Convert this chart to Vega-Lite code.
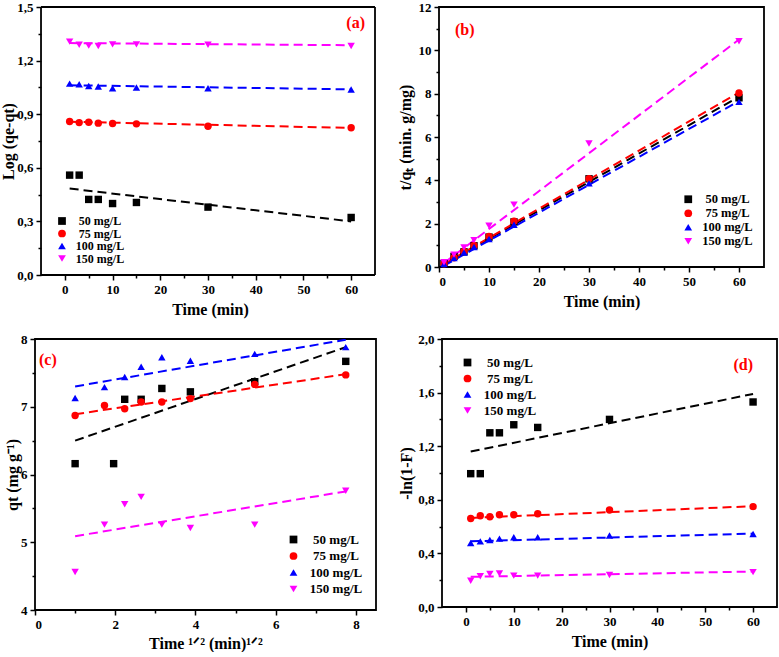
{
  "$schema": "https://vega.github.io/schema/vega-lite/v6.json",
  "padding": {"left": 0, "top": 0, "right": 0, "bottom": 0},
  "background": "#ffffff",
  "spacing": 15,
  "resolve": {"scale": {"color": "independent", "shape": "independent", "stroke": "independent"}, "legend": {"color": "independent", "shape": "independent", "stroke": "independent"}},
  "datasets": {
    "pts": [
      {"panel": "a", "series": "50 mg/L", "x": 1, "y": 0.559},
      {"panel": "a", "series": "50 mg/L", "x": 3, "y": 0.559},
      {"panel": "a", "series": "50 mg/L", "x": 5, "y": 0.423},
      {"panel": "a", "series": "50 mg/L", "x": 7, "y": 0.423},
      {"panel": "a", "series": "50 mg/L", "x": 10, "y": 0.4},
      {"panel": "a", "series": "50 mg/L", "x": 15, "y": 0.406},
      {"panel": "a", "series": "50 mg/L", "x": 30, "y": 0.38},
      {"panel": "a", "series": "50 mg/L", "x": 60, "y": 0.322},
      {"panel": "a", "series": "75 mg/L", "x": 1, "y": 0.859},
      {"panel": "a", "series": "75 mg/L", "x": 3, "y": 0.853},
      {"panel": "a", "series": "75 mg/L", "x": 5, "y": 0.855},
      {"panel": "a", "series": "75 mg/L", "x": 7, "y": 0.85},
      {"panel": "a", "series": "75 mg/L", "x": 10, "y": 0.848},
      {"panel": "a", "series": "75 mg/L", "x": 15, "y": 0.846},
      {"panel": "a", "series": "75 mg/L", "x": 30, "y": 0.833},
      {"panel": "a", "series": "75 mg/L", "x": 60, "y": 0.824},
      {"panel": "a", "series": "100 mg/L", "x": 1, "y": 1.071},
      {"panel": "a", "series": "100 mg/L", "x": 3, "y": 1.068},
      {"panel": "a", "series": "100 mg/L", "x": 5, "y": 1.058},
      {"panel": "a", "series": "100 mg/L", "x": 7, "y": 1.055},
      {"panel": "a", "series": "100 mg/L", "x": 10, "y": 1.045},
      {"panel": "a", "series": "100 mg/L", "x": 15, "y": 1.049},
      {"panel": "a", "series": "100 mg/L", "x": 30, "y": 1.045},
      {"panel": "a", "series": "100 mg/L", "x": 60, "y": 1.038},
      {"panel": "a", "series": "150 mg/L", "x": 1, "y": 1.306},
      {"panel": "a", "series": "150 mg/L", "x": 3, "y": 1.289},
      {"panel": "a", "series": "150 mg/L", "x": 5, "y": 1.284},
      {"panel": "a", "series": "150 mg/L", "x": 7, "y": 1.282},
      {"panel": "a", "series": "150 mg/L", "x": 10, "y": 1.291},
      {"panel": "a", "series": "150 mg/L", "x": 15, "y": 1.291},
      {"panel": "a", "series": "150 mg/L", "x": 30, "y": 1.289},
      {"panel": "a", "series": "150 mg/L", "x": 60, "y": 1.282},

      {"panel": "b", "series": "50 mg/L", "x": 1, "y": 0.16},
      {"panel": "b", "series": "50 mg/L", "x": 3, "y": 0.49},
      {"panel": "b", "series": "50 mg/L", "x": 5, "y": 0.7},
      {"panel": "b", "series": "50 mg/L", "x": 7, "y": 0.98},
      {"panel": "b", "series": "50 mg/L", "x": 10, "y": 1.38},
      {"panel": "b", "series": "50 mg/L", "x": 15, "y": 2.08},
      {"panel": "b", "series": "50 mg/L", "x": 30, "y": 4.07},
      {"panel": "b", "series": "50 mg/L", "x": 60, "y": 7.81},
      {"panel": "b", "series": "75 mg/L", "x": 1, "y": 0.15},
      {"panel": "b", "series": "75 mg/L", "x": 3, "y": 0.43},
      {"panel": "b", "series": "75 mg/L", "x": 5, "y": 0.72},
      {"panel": "b", "series": "75 mg/L", "x": 7, "y": 0.99},
      {"panel": "b", "series": "75 mg/L", "x": 10, "y": 1.41},
      {"panel": "b", "series": "75 mg/L", "x": 15, "y": 2.11},
      {"panel": "b", "series": "75 mg/L", "x": 30, "y": 4.08},
      {"panel": "b", "series": "75 mg/L", "x": 60, "y": 8.03},
      {"panel": "b", "series": "100 mg/L", "x": 1, "y": 0.14},
      {"panel": "b", "series": "100 mg/L", "x": 3, "y": 0.41},
      {"panel": "b", "series": "100 mg/L", "x": 5, "y": 0.67},
      {"panel": "b", "series": "100 mg/L", "x": 7, "y": 0.92},
      {"panel": "b", "series": "100 mg/L", "x": 10, "y": 1.29},
      {"panel": "b", "series": "100 mg/L", "x": 15, "y": 1.95},
      {"panel": "b", "series": "100 mg/L", "x": 30, "y": 3.86},
      {"panel": "b", "series": "100 mg/L", "x": 60, "y": 7.62},
      {"panel": "b", "series": "150 mg/L", "x": 1, "y": 0.22},
      {"panel": "b", "series": "150 mg/L", "x": 3, "y": 0.57},
      {"panel": "b", "series": "150 mg/L", "x": 5, "y": 0.9},
      {"panel": "b", "series": "150 mg/L", "x": 7, "y": 1.24},
      {"panel": "b", "series": "150 mg/L", "x": 10, "y": 1.9},
      {"panel": "b", "series": "150 mg/L", "x": 15, "y": 2.88},
      {"panel": "b", "series": "150 mg/L", "x": 30, "y": 5.7},
      {"panel": "b", "series": "150 mg/L", "x": 60, "y": 10.42},

      {"panel": "c", "series": "50 mg/L", "x": 1, "y": 6.16},
      {"panel": "c", "series": "50 mg/L", "x": 1.96, "y": 6.16},
      {"panel": "c", "series": "50 mg/L", "x": 2.236, "y": 7.11},
      {"panel": "c", "series": "50 mg/L", "x": 2.646, "y": 7.11},
      {"panel": "c", "series": "50 mg/L", "x": 3.162, "y": 7.27},
      {"panel": "c", "series": "50 mg/L", "x": 3.873, "y": 7.22},
      {"panel": "c", "series": "50 mg/L", "x": 5.477, "y": 7.37},
      {"panel": "c", "series": "50 mg/L", "x": 7.746, "y": 7.67},
      {"panel": "c", "series": "75 mg/L", "x": 1, "y": 6.87},
      {"panel": "c", "series": "75 mg/L", "x": 1.732, "y": 7.02},
      {"panel": "c", "series": "75 mg/L", "x": 2.236, "y": 6.97},
      {"panel": "c", "series": "75 mg/L", "x": 2.646, "y": 7.07},
      {"panel": "c", "series": "75 mg/L", "x": 3.162, "y": 7.07},
      {"panel": "c", "series": "75 mg/L", "x": 3.873, "y": 7.12},
      {"panel": "c", "series": "75 mg/L", "x": 5.477, "y": 7.33},
      {"panel": "c", "series": "75 mg/L", "x": 7.746, "y": 7.47},
      {"panel": "c", "series": "100 mg/L", "x": 1, "y": 7.13},
      {"panel": "c", "series": "100 mg/L", "x": 1.732, "y": 7.29},
      {"panel": "c", "series": "100 mg/L", "x": 2.236, "y": 7.44},
      {"panel": "c", "series": "100 mg/L", "x": 2.646, "y": 7.59},
      {"panel": "c", "series": "100 mg/L", "x": 3.162, "y": 7.73},
      {"panel": "c", "series": "100 mg/L", "x": 3.873, "y": 7.68},
      {"panel": "c", "series": "100 mg/L", "x": 5.477, "y": 7.78},
      {"panel": "c", "series": "100 mg/L", "x": 7.746, "y": 7.88},
      {"panel": "c", "series": "150 mg/L", "x": 1, "y": 4.56},
      {"panel": "c", "series": "150 mg/L", "x": 1.732, "y": 5.26},
      {"panel": "c", "series": "150 mg/L", "x": 2.236, "y": 5.56},
      {"panel": "c", "series": "150 mg/L", "x": 2.646, "y": 5.67},
      {"panel": "c", "series": "150 mg/L", "x": 3.162, "y": 5.26},
      {"panel": "c", "series": "150 mg/L", "x": 3.873, "y": 5.21},
      {"panel": "c", "series": "150 mg/L", "x": 5.477, "y": 5.26},
      {"panel": "c", "series": "150 mg/L", "x": 7.746, "y": 5.76},

      {"panel": "d", "series": "50 mg/L", "x": 1, "y": 0.995},
      {"panel": "d", "series": "50 mg/L", "x": 3, "y": 0.995},
      {"panel": "d", "series": "50 mg/L", "x": 5, "y": 1.3},
      {"panel": "d", "series": "50 mg/L", "x": 7, "y": 1.3},
      {"panel": "d", "series": "50 mg/L", "x": 10, "y": 1.36},
      {"panel": "d", "series": "50 mg/L", "x": 15, "y": 1.34},
      {"panel": "d", "series": "50 mg/L", "x": 30, "y": 1.4},
      {"panel": "d", "series": "50 mg/L", "x": 60, "y": 1.53},
      {"panel": "d", "series": "75 mg/L", "x": 1, "y": 0.661},
      {"panel": "d", "series": "75 mg/L", "x": 3, "y": 0.681},
      {"panel": "d", "series": "75 mg/L", "x": 5, "y": 0.673},
      {"panel": "d", "series": "75 mg/L", "x": 7, "y": 0.688},
      {"panel": "d", "series": "75 mg/L", "x": 10, "y": 0.688},
      {"panel": "d", "series": "75 mg/L", "x": 15, "y": 0.696},
      {"panel": "d", "series": "75 mg/L", "x": 30, "y": 0.724},
      {"panel": "d", "series": "75 mg/L", "x": 60, "y": 0.749},
      {"panel": "d", "series": "100 mg/L", "x": 1, "y": 0.477},
      {"panel": "d", "series": "100 mg/L", "x": 3, "y": 0.49},
      {"panel": "d", "series": "100 mg/L", "x": 5, "y": 0.5},
      {"panel": "d", "series": "100 mg/L", "x": 7, "y": 0.51},
      {"panel": "d", "series": "100 mg/L", "x": 10, "y": 0.52},
      {"panel": "d", "series": "100 mg/L", "x": 15, "y": 0.52},
      {"panel": "d", "series": "100 mg/L", "x": 30, "y": 0.533},
      {"panel": "d", "series": "100 mg/L", "x": 60, "y": 0.545},
      {"panel": "d", "series": "150 mg/L", "x": 1, "y": 0.196},
      {"panel": "d", "series": "150 mg/L", "x": 3, "y": 0.23},
      {"panel": "d", "series": "150 mg/L", "x": 5, "y": 0.246},
      {"panel": "d", "series": "150 mg/L", "x": 7, "y": 0.25},
      {"panel": "d", "series": "150 mg/L", "x": 10, "y": 0.234},
      {"panel": "d", "series": "150 mg/L", "x": 15, "y": 0.234},
      {"panel": "d", "series": "150 mg/L", "x": 30, "y": 0.239},
      {"panel": "d", "series": "150 mg/L", "x": 60, "y": 0.26}
    ],
    "fit": [
      {"panel": "a", "series": "50 mg/L", "x": 1, "y": 0.484},
      {"panel": "a", "series": "50 mg/L", "x": 60, "y": 0.3},
      {"panel": "a", "series": "75 mg/L", "x": 1, "y": 0.858},
      {"panel": "a", "series": "75 mg/L", "x": 60, "y": 0.823},
      {"panel": "a", "series": "100 mg/L", "x": 1, "y": 1.062},
      {"panel": "a", "series": "100 mg/L", "x": 60, "y": 1.039},
      {"panel": "a", "series": "150 mg/L", "x": 1, "y": 1.298},
      {"panel": "a", "series": "150 mg/L", "x": 60, "y": 1.286},
      {"panel": "b", "series": "50 mg/L", "x": 1, "y": 0.12},
      {"panel": "b", "series": "50 mg/L", "x": 60, "y": 7.86},
      {"panel": "b", "series": "75 mg/L", "x": 1, "y": 0.14},
      {"panel": "b", "series": "75 mg/L", "x": 60, "y": 8.06},
      {"panel": "b", "series": "100 mg/L", "x": 1, "y": 0.06},
      {"panel": "b", "series": "100 mg/L", "x": 60, "y": 7.66},
      {"panel": "b", "series": "150 mg/L", "x": 1, "y": 0.18},
      {"panel": "b", "series": "150 mg/L", "x": 60, "y": 10.5},
      {"panel": "c", "series": "50 mg/L", "x": 1, "y": 6.5},
      {"panel": "c", "series": "50 mg/L", "x": 7.746, "y": 7.88},
      {"panel": "c", "series": "75 mg/L", "x": 1, "y": 6.89},
      {"panel": "c", "series": "75 mg/L", "x": 7.746, "y": 7.48},
      {"panel": "c", "series": "100 mg/L", "x": 1, "y": 7.3},
      {"panel": "c", "series": "100 mg/L", "x": 7.746, "y": 7.99},
      {"panel": "c", "series": "150 mg/L", "x": 1, "y": 5.09},
      {"panel": "c", "series": "150 mg/L", "x": 7.746, "y": 5.75},
      {"panel": "d", "series": "50 mg/L", "x": 1, "y": 1.16},
      {"panel": "d", "series": "50 mg/L", "x": 60, "y": 1.59},
      {"panel": "d", "series": "75 mg/L", "x": 1, "y": 0.665},
      {"panel": "d", "series": "75 mg/L", "x": 60, "y": 0.752},
      {"panel": "d", "series": "100 mg/L", "x": 1, "y": 0.49},
      {"panel": "d", "series": "100 mg/L", "x": 60, "y": 0.548},
      {"panel": "d", "series": "150 mg/L", "x": 1, "y": 0.225},
      {"panel": "d", "series": "150 mg/L", "x": 60, "y": 0.265}
    ]
  },
  "vconcat": [
    {
      "spacing": 20,
      "resolve": {"scale": {"color": "independent", "shape": "independent", "stroke": "independent"}, "legend": {"color": "independent", "shape": "independent", "stroke": "independent"}},
      "hconcat": [
        {
          "width": 340, "height": 268,
          "view": {"stroke": null},
          "title": {"text": "(a)", "frame": "group", "anchor": "end", "offset": -30, "dx": -10},
          "resolve": {"axis": {"x": "independent", "y": "independent"}},
          "layer": [
            {
              "data": {"values": [{}]},
              "mark": {"type": "rule", "color": "#000000", "strokeWidth": 1.8},
              "encoding": {"x": {"datum": -5, "type": "quantitative", "scale": {"domain": [-6.26, 65], "nice": false, "zero": false}, "axis": null}}
            },
            {
              "data": {"values": [{}]},
              "mark": {"type": "rule", "color": "#000000", "strokeWidth": 1.8},
              "encoding": {"x": {"datum": 65, "type": "quantitative", "axis": null}}
            },
            {
              "data": {"values": [{}]},
              "mark": {"type": "rule", "color": "#000000", "strokeWidth": 1.8},
              "encoding": {"y": {"datum": 0, "type": "quantitative", "scale": {"domain": [0, 1.5], "nice": false, "zero": false}, "axis": null}, "x": {"datum": -5, "type": "quantitative", "axis": null}, "x2": {"datum": 65}}
            },
            {
              "data": {"values": [{}]},
              "mark": {"type": "rule", "color": "#000000", "strokeWidth": 1.8},
              "encoding": {"y": {"datum": 1.5, "type": "quantitative", "axis": null}, "x": {"datum": -5, "type": "quantitative", "axis": null}, "x2": {"datum": 65}}
            },
            {
              "data": {"name": "fit"},
              "transform": [{"filter": "datum.panel == 'a'"}],
              "mark": {"type": "line", "strokeDash": [9, 5], "strokeWidth": 2, "clip": true},
              "encoding": {
                "x": {"field": "x", "type": "quantitative",
                      "axis": {"orient": "bottom", "values": [5, 15, 25, 35, 45, 55], "labels": false, "title": null, "tickSize": 3}},
                "y": {"field": "y", "type": "quantitative",
                      "axis": {"orient": "left", "offset": -6, "values": [0.15, 0.45, 0.75, 1.05, 1.35], "labels": false, "title": null, "tickSize": 3}},
                "stroke": {"field": "series", "type": "nominal", "scale": {"domain": ["150 mg/L", "100 mg/L", "75 mg/L", "50 mg/L"], "range": ["#ff00ff", "#0000ff", "#ff0000", "#000000"]}, "legend": null}
              }
            },
            {
              "data": {"name": "pts"},
              "transform": [{"filter": "datum.panel == 'a'"}],
              "mark": {"type": "point", "filled": true, "opacity": 1, "size": 55},
              "encoding": {
                "x": {"field": "x", "type": "quantitative", "axis": {"orient": "bottom", "values": [0, 10, 20, 30, 40, 50, 60], "title": "Time (min)", "titlePadding": 5, "titleX": 175}},
                "y": {"field": "y", "type": "quantitative", "axis": {"orient": "left", "offset": -6, "values": [0, 0.3, 0.6, 0.9, 1.2, 1.5], "title": "Log (qe-qt)", "titlePadding": 0, "labelExpr": "replace(format(datum.value, '.1f'), '.', ',')"}},
                "color": {"field": "series", "type": "nominal", "scale": {"domain": ["50 mg/L", "75 mg/L", "100 mg/L", "150 mg/L"], "range": ["#000000", "#ff0000", "#0000ff", "#ff00ff"]},
                          "legend": {"orient": "none", "legendX": 21, "legendY": 208, "title": null, "rowPadding": 0.5, "labelFontSize": 12, "labelAlign": "center", "labelOffset": 32}},
                "shape": {"field": "series", "type": "nominal", "scale": {"domain": ["50 mg/L", "75 mg/L", "100 mg/L", "150 mg/L"], "range": ["square", "circle", "triangle-up", "triangle-down"]},
                          "legend": {"orient": "none", "legendX": 21, "legendY": 208, "title": null, "rowPadding": 0.5, "labelFontSize": 12, "labelAlign": "center", "labelOffset": 32}}
              }
            }
          ]
        },
        {
          "width": 325, "height": 260,
          "title": {"text": "(b)", "frame": "group", "anchor": "start", "offset": -37, "dx": 16},
          "resolve": {"axis": {"x": "independent", "y": "independent"}},
          "layer": [
            {
              "data": {"name": "fit"},
              "transform": [{"filter": "datum.panel == 'b'"}],
              "mark": {"type": "line", "strokeDash": [9, 5], "strokeWidth": 2, "clip": true},
              "encoding": {
                "x": {"field": "x", "type": "quantitative", "scale": {"domain": [0, 65], "nice": false, "zero": false},
                      "axis": {"orient": "bottom", "values": [5, 15, 25, 35, 45, 55], "labels": false, "title": null, "tickSize": 3}},
                "y": {"field": "y", "type": "quantitative", "scale": {"domain": [0, 12], "nice": false, "zero": false},
                      "axis": {"orient": "left", "values": [1, 3, 5, 7, 9, 11], "labels": false, "title": null, "tickSize": 3}},
                "stroke": {"field": "series", "type": "nominal", "scale": {"domain": ["150 mg/L", "100 mg/L", "75 mg/L", "50 mg/L"], "range": ["#ff00ff", "#0000ff", "#ff0000", "#000000"]}, "legend": null}
              }
            },
            {
              "data": {"name": "pts"},
              "transform": [{"filter": "datum.panel == 'b'"}],
              "mark": {"type": "point", "filled": true, "opacity": 1, "size": 55},
              "encoding": {
                "x": {"field": "x", "type": "quantitative", "axis": {"orient": "bottom", "values": [0, 10, 20, 30, 40, 50, 60], "title": "Time (min)", "titlePadding": 5}},
                "y": {"field": "y", "type": "quantitative", "axis": {"orient": "left", "values": [0, 2, 4, 6, 8, 10, 12], "title": "t/qₜ (min. g/mg)", "titlePadding": 4.5}},
                "color": {"field": "series", "type": "nominal", "scale": {"domain": ["50 mg/L", "75 mg/L", "100 mg/L", "150 mg/L"], "range": ["#000000", "#ff0000", "#0000ff", "#ff00ff"]},
                          "legend": {"orient": "none", "legendX": 243, "legendY": 186, "title": null, "rowPadding": 1, "labelFontSize": 12.5, "labelAlign": "center", "labelOffset": 33}},
                "shape": {"field": "series", "type": "nominal", "scale": {"domain": ["50 mg/L", "75 mg/L", "100 mg/L", "150 mg/L"], "range": ["square", "circle", "triangle-up", "triangle-down"]},
                          "legend": {"orient": "none", "legendX": 243, "legendY": 186, "title": null, "rowPadding": 1, "labelFontSize": 12.5, "labelAlign": "center", "labelOffset": 33}}
              }
            }
          ]
        }
      ]
    },
    {
      "spacing": 20,
      "resolve": {"scale": {"color": "independent", "shape": "independent", "stroke": "independent"}, "legend": {"color": "independent", "shape": "independent", "stroke": "independent"}},
      "hconcat": [
        {
          "width": 341, "height": 271,
          "title": {"text": "(c)", "frame": "group", "anchor": "start", "offset": -35, "dx": 4},
          "resolve": {"axis": {"x": "independent", "y": "independent"}},
          "layer": [
            {
              "data": {"name": "fit"},
              "transform": [{"filter": "datum.panel == 'c'"}],
              "mark": {"type": "line", "strokeDash": [9, 5], "strokeWidth": 2, "clip": true},
              "encoding": {
                "x": {"field": "x", "type": "quantitative", "scale": {"domain": [0, 8.5], "nice": false, "zero": false},
                      "axis": {"orient": "bottom", "values": [1, 3, 5, 7], "labels": false, "title": null, "tickSize": 3}},
                "y": {"field": "y", "type": "quantitative", "scale": {"domain": [4, 8], "nice": false, "zero": false},
                      "axis": {"orient": "left", "values": [4.5, 5.5, 6.5, 7.5], "labels": false, "title": null, "tickSize": 3}},
                "stroke": {"field": "series", "type": "nominal", "scale": {"domain": ["150 mg/L", "100 mg/L", "75 mg/L", "50 mg/L"], "range": ["#ff00ff", "#0000ff", "#ff0000", "#000000"]}, "legend": null}
              }
            },
            {
              "data": {"name": "pts"},
              "transform": [{"filter": "datum.panel == 'c'"}],
              "mark": {"type": "point", "filled": true, "opacity": 1, "size": 55},
              "encoding": {
                "x": {"field": "x", "type": "quantitative", "axis": {"orient": "bottom", "values": [0, 2, 4, 6, 8], "title": "Time ¹ᐟ² (min)¹ᐟ²", "titlePadding": 4}},
                "y": {"field": "y", "type": "quantitative", "axis": {"orient": "left", "values": [4, 5, 6, 7, 8], "title": "qt (mg g⁻¹)", "titlePadding": 0}},
                "color": {"field": "series", "type": "nominal", "scale": {"domain": ["50 mg/L", "75 mg/L", "100 mg/L", "150 mg/L"], "range": ["#000000", "#ff0000", "#0000ff", "#ff00ff"]},
                          "legend": {"orient": "none", "legendX": 252, "legendY": 194, "title": null, "rowPadding": 2.5, "labelFontSize": 13, "labelAlign": "center", "labelOffset": 36}},
                "shape": {"field": "series", "type": "nominal", "scale": {"domain": ["50 mg/L", "75 mg/L", "100 mg/L", "150 mg/L"], "range": ["square", "circle", "triangle-up", "triangle-down"]},
                          "legend": {"orient": "none", "legendX": 252, "legendY": 194, "title": null, "rowPadding": 2.5, "labelFontSize": 13, "labelAlign": "center", "labelOffset": 36}}
              }
            }
          ]
        },
        {
          "width": 335, "height": 268,
          "title": {"text": "(d)", "frame": "group", "anchor": "end", "offset": -40, "dx": -24},
          "resolve": {"axis": {"x": "independent", "y": "independent"}},
          "layer": [
            {
              "data": {"name": "fit"},
              "transform": [{"filter": "datum.panel == 'd'"}],
              "mark": {"type": "line", "strokeDash": [9, 5], "strokeWidth": 2, "clip": true},
              "encoding": {
                "x": {"field": "x", "type": "quantitative", "scale": {"domain": [-5, 65], "nice": false, "zero": false},
                      "axis": {"orient": "bottom", "values": [5, 15, 25, 35, 45, 55], "labels": false, "title": null, "tickSize": 3}},
                "y": {"field": "y", "type": "quantitative", "scale": {"domain": [0, 2], "nice": false, "zero": false},
                      "axis": {"orient": "left", "values": [0.2, 0.6, 1.0, 1.4, 1.8], "labels": false, "title": null, "tickSize": 3}},
                "stroke": {"field": "series", "type": "nominal", "scale": {"domain": ["150 mg/L", "100 mg/L", "75 mg/L", "50 mg/L"], "range": ["#ff00ff", "#0000ff", "#ff0000", "#000000"]}, "legend": null}
              }
            },
            {
              "data": {"name": "pts"},
              "transform": [{"filter": "datum.panel == 'd'"}],
              "mark": {"type": "point", "filled": true, "opacity": 1, "size": 55},
              "encoding": {
                "x": {"field": "x", "type": "quantitative", "axis": {"orient": "bottom", "values": [0, 10, 20, 30, 40, 50, 60], "title": "Time (min)", "titlePadding": 5}},
                "y": {"field": "y", "type": "quantitative", "axis": {"orient": "left", "values": [0, 0.4, 0.8, 1.2, 1.6, 2.0], "title": "-ln(1-F)", "titlePadding": 3, "labelExpr": "replace(format(datum.value, '.1f'), '.', ',')"}},
                "color": {"field": "series", "type": "nominal", "scale": {"domain": ["50 mg/L", "75 mg/L", "100 mg/L", "150 mg/L"], "range": ["#000000", "#ff0000", "#0000ff", "#ff00ff"]},
                          "legend": {"orient": "none", "legendX": 19, "legendY": 17, "title": null, "rowPadding": 2, "labelFontSize": 13, "labelAlign": "center", "labelOffset": 36}},
                "shape": {"field": "series", "type": "nominal", "scale": {"domain": ["50 mg/L", "75 mg/L", "100 mg/L", "150 mg/L"], "range": ["square", "circle", "triangle-up", "triangle-down"]},
                          "legend": {"orient": "none", "legendX": 19, "legendY": 17, "title": null, "rowPadding": 2, "labelFontSize": 13, "labelAlign": "center", "labelOffset": 36}}
              }
            }
          ]
        }
      ]
    }
  ],
  "config": {
    "font": "Liberation Serif",
    "view": {"stroke": "#000000", "strokeWidth": 1.8},
    "axis": {
      "labelFont": "Liberation Serif", "labelFontWeight": "bold", "labelFontSize": 13, "labelColor": "#000000", "labelPadding": 3,
      "titleFont": "Liberation Serif", "titleFontWeight": "bold", "titleFontSize": 16, "titleColor": "#000000",
      "tickColor": "#000000", "tickWidth": 1.5, "tickSize": 5, "domain": false, "grid": false
    },
    "legend": {
      "labelFont": "Liberation Serif", "labelFontWeight": "bold", "labelFontSize": 13, "labelColor": "#000000",
      "padding": 0, "labelOffset": 12, "symbolSize": 60, "symbolStrokeWidth": 0
    },
    "title": {"font": "Liberation Serif", "fontWeight": "bold", "color": "#ff0000", "fontSize": 16}
  }
}
